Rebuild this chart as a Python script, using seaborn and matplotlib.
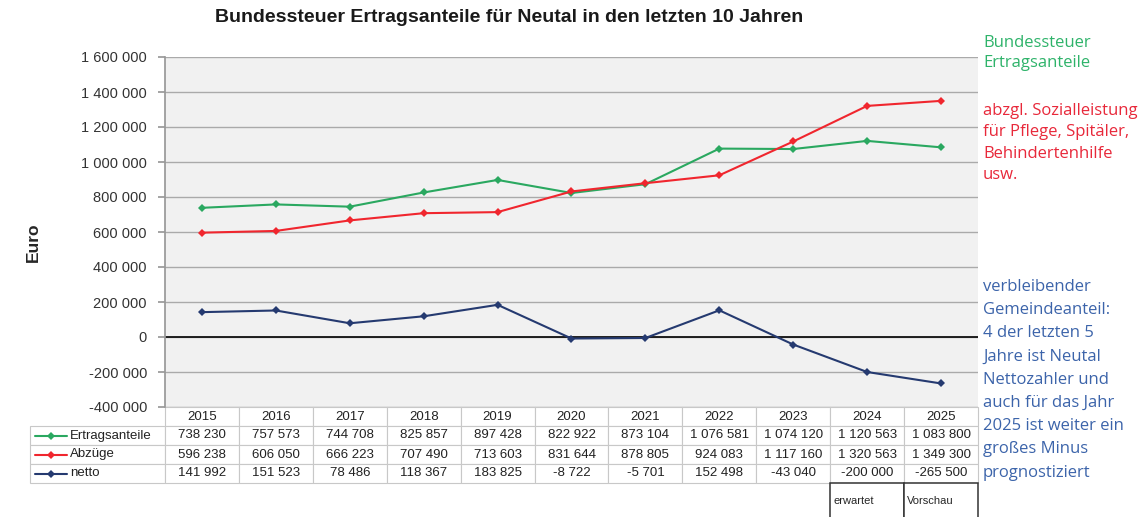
import numpy as np
import pandas as pd
import matplotlib.pyplot as plt
import seaborn as sns

# data
years = [2015, 2016, 2017, 2018, 2019, 2020, 2021, 2022, 2023, 2024, 2025]
ertrag = [738230, 757573, 744708, 825857, 897428, 822922, 873104, 1076581, 1074120, 1120563, 1083800]
abzuege = [596238, 606050, 666223, 707490, 713603, 831644, 878805, 924083, 1117160, 1320563, 1349300]
netto = [141992, 151523, 78486, 118367, 183825, -8722, -5701, 152498, -43040, -200000, -265500]
series_names = ["Ertragsanteile", "Abzüge", "netto"]
colors = ["#2aa860", "#f0262e", "#253a70"]
yticks = list(range(-400000, 1600001, 200000))

def fmt(v):
    return f"{v:,}".replace(",", " ")

df = pd.DataFrame({"Jahr": years * 3,
                   "Wert": ertrag + abzuege + netto,
                   "Reihe": [n for n in series_names for _ in years]})

sns.set_theme(style="white")
plt.rcParams['font.family'] = ['Liberation Sans', 'DejaVu Sans']

fig = plt.figure(figsize=(11.48, 5.17), dpi=100)
ax = fig.add_axes([165/1148, 110/517, 813/1148, 350/517])
ax.set_facecolor("#f1f1f1")

sns.lineplot(data=df, x="Jahr", y="Wert", hue="Reihe", palette=colors,
             marker="D", markersize=4.5, markeredgewidth=0, linewidth=1.5,
             legend=False, ax=ax, zorder=3)

ax.set_xlim(years[0] - 0.5, years[-1] + 0.5)
ax.set_ylim(-400000, 1600000)
ax.set_yticks(yticks)
ax.set_yticklabels([fmt(v) for v in yticks], fontsize=10.5, color="#333333")
ax.set_xticks([])
ax.grid(axis="y", color="#aaaaaa", lw=1)
ax.axhline(0, color="#111111", lw=1.3, zorder=2)
for s in ["top", "right", "bottom"]:
    ax.spines[s].set_visible(False)
ax.spines["left"].set_color("#999999")
ax.tick_params(axis="y", length=5, color="#999999", left=True, pad=8)
ax.set_xlabel("")
ax.set_ylabel("")

fig.text(33/1148, 1 - 242/517, "Euro", rotation=90, fontsize=12.5, fontweight="bold",
         ha="center", va="center")
fig.text(509/1148, 1 - 18/517, "Bundessteuer Ertragsanteile für Neutal in den letzten 10 Jahren",
         fontsize=14, fontweight="bold", ha="center", va="center", color="#1a1a1a")

# data table under the plot
label_w = 135
col_w = 813 / len(years)
total_w = label_w + 813
cell_text = [[""] + [str(y) for y in years]]
for vals in [ertrag, abzuege, netto]:
    cell_text.append([""] + [fmt(v) for v in vals])
tab_h = 76 / 350
tab = ax.table(cellText=cell_text,
               colWidths=[label_w / total_w] + [col_w / total_w] * len(years),
               cellLoc="center",
               bbox=[-label_w / 813, -tab_h, total_w / 813, tab_h])
tab.auto_set_font_size(False)
tab.set_fontsize(9.5)
for (r, c), cell in tab.get_celld().items():
    cell.set_edgecolor("#c8c8c8")
    cell.set_linewidth(0.8)
    cell.get_text().set_color("#222222")
tab[0, 0].visible_edges = ""

row_h = tab_h / 4
for i, (name, col) in enumerate(zip(series_names, colors)):
    yc = -(i + 1.5) * row_h
    x0 = -label_w / 813 + 5 / 813
    ax.plot([x0, x0 + 32 / 813], [yc, yc], color=col, lw=1.5, transform=ax.transAxes, clip_on=False)
    ax.plot([x0 + 16 / 813], [yc], marker="D", ms=4.5, mew=0, color=col, transform=ax.transAxes, clip_on=False)
    ax.text(x0 + 35 / 813, yc, name, transform=ax.transAxes, fontsize=9.5, va="center",
            ha="left", color="#222222")

# erwartet / Vorschau boxes
n = len(years)
box = ax.table(cellText=[["erwartet", "Vorschau"]], cellLoc="left",
               bbox=[(n - 2) / n, -112 / 350, 2 / n, 36 / 350])
box.auto_set_font_size(False)
box.set_fontsize(8)
for (r, c), cell in box.get_celld().items():
    cell.set_edgecolor("#333333")
    cell.set_linewidth(1.1)
    cell.PAD = 0.04

side = ["Open Sans", "DejaVu Sans"]
fig.text(983/1148, 1 - 35/517, "Bundessteuer\nErtragsanteile", color="#2eb36a",
         fontsize=12, va="top", ha="left", linespacing=1.35, family=side)
fig.text(983/1148, 1 - 103/517, "abzgl. Sozialleistung\nfür Pflege, Spitäler,\nBehindertenhilfe\nusw.",
         color="#e8283a", fontsize=12, va="top", ha="left", linespacing=1.45, family=side)
fig.text(983/1148, 1 - 279/517,
         "verbleibender\nGemeindeanteil:\n4 der letzten 5\nJahre ist Neutal\nNettozahler und\n"
         "auch für das Jahr\n2025 ist weiter ein\ngroßes Minus\nprognostiziert",
         color="#3c64aa", fontsize=12, va="top", ha="left", linespacing=1.6, family=side)

fig.savefig("out.png", dpi=100)
